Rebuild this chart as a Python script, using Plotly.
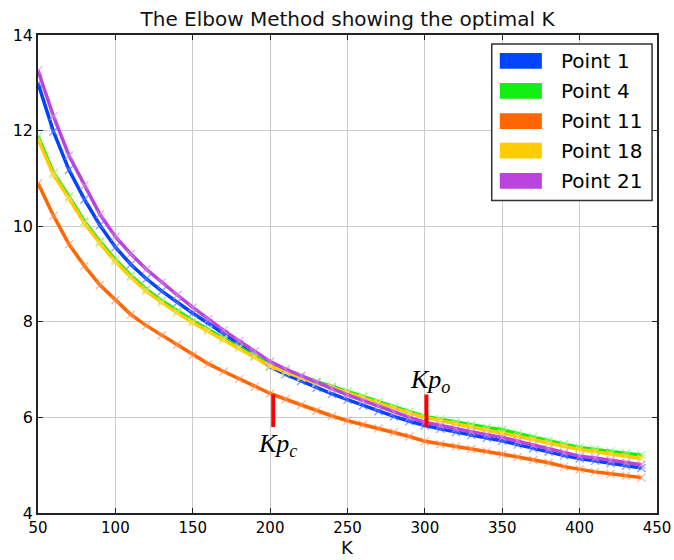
import plotly.graph_objects as go

K = [50, 60, 70, 80, 90, 100, 110, 120, 130, 140, 150, 160, 170, 180, 190, 200,
     210, 220, 230, 240, 250, 260, 270, 280, 290, 300, 310, 320, 330, 340, 350,
     360, 370, 380, 390, 400, 410, 420, 430, 440]

point1 = [12.99, 11.98, 11.18, 10.56, 10.02, 9.56, 9.20, 8.90, 8.64, 8.40, 8.18,
          7.97, 7.75, 7.53, 7.28, 7.06, 6.90, 6.76, 6.62, 6.49, 6.37, 6.25, 6.13,
          6.02, 5.92, 5.83, 5.76, 5.69, 5.63, 5.57, 5.51, 5.43, 5.35, 5.28, 5.20,
          5.14, 5.09, 5.04, 4.99, 4.94]
point4 = [11.88, 11.12, 10.62, 10.10, 9.68, 9.30, 8.97, 8.68, 8.44, 8.22, 8.02,
          7.84, 7.66, 7.48, 7.29, 7.10, 6.98, 6.86, 6.75, 6.65, 6.55, 6.44, 6.33,
          6.22, 6.12, 6.02, 5.96, 5.90, 5.84, 5.79, 5.74, 5.66, 5.59, 5.51, 5.44,
          5.37, 5.33, 5.29, 5.25, 5.21]
point11 = [10.90, 10.22, 9.62, 9.17, 8.77, 8.45, 8.15, 7.92, 7.72, 7.52, 7.30,
           7.12, 6.96, 6.80, 6.64, 6.50, 6.38, 6.26, 6.14, 6.03, 5.93, 5.85, 5.77,
           5.69, 5.60, 5.50, 5.44, 5.39, 5.34, 5.29, 5.23, 5.17, 5.11, 5.05, 4.97,
           4.91, 4.86, 4.82, 4.78, 4.74]
point18 = [11.82, 11.08, 10.58, 10.06, 9.64, 9.26, 8.93, 8.64, 8.40, 8.18, 7.98,
           7.80, 7.62, 7.45, 7.26, 7.07, 6.95, 6.83, 6.72, 6.62, 6.52, 6.41, 6.30,
           6.19, 6.09, 6.00, 5.93, 5.86, 5.80, 5.73, 5.67, 5.60, 5.53, 5.46, 5.39,
           5.33, 5.28, 5.23, 5.18, 5.14]
point21 = [13.26, 12.30, 11.48, 10.85, 10.25, 9.78, 9.42, 9.10, 8.82, 8.56, 8.30,
           8.05, 7.82, 7.60, 7.38, 7.17, 7.01, 6.87, 6.73, 6.60, 6.47, 6.35, 6.23,
           6.11, 6.00, 5.90, 5.83, 5.76, 5.70, 5.64, 5.58, 5.50, 5.42, 5.34, 5.26,
           5.19, 5.15, 5.10, 5.05, 5.01]

series_names = ["Point 1", "Point 4", "Point 11", "Point 18", "Point 21"]
series_values = [point1, point4, point11, point18, point21]
series_colors = ["#0044ff", "#11ee11", "#ff6600", "#ffcc00", "#bb44dd"]
marker_colors = ["rgba(90,120,255,0.7)", "rgba(120,255,120,0.8)", "rgba(255,150,100,0.7)",
                 "rgba(255,220,100,0.8)", "rgba(210,140,230,0.7)"]

x_ticks = [50, 100, 150, 200, 250, 300, 350, 400, 450]
y_ticks = [4, 6, 8, 10, 12, 14]

# Elbow markers (K position, bar bottom, bar top, label position)
kpc_k = 202
kpo_k = 301
bar_low = 5.80
bar_high = 6.48
kpc_label = (205, 5.42)
kpo_label = (303, 6.76)

fig = go.Figure()
for name, vals, col, mcol in zip(series_names, series_values, series_colors, marker_colors):
    fig.add_trace(go.Scatter(
        x=K, y=vals, name=name, mode="lines+markers",
        line=dict(color=col, width=3.5),
        marker=dict(symbol="x-thin", size=8, color=mcol,
                    line=dict(color=mcol, width=1.3)),
        showlegend=False,
    ))

shapes = []
for kx in (kpc_k, kpo_k):
    shapes.append(dict(type="line", xref="x", yref="y", x0=kx, x1=kx,
                       y0=bar_low, y1=bar_high,
                       line=dict(color="#ff0000", width=4)))

# manual legend (patch style)
leg_x0, leg_x1, leg_y0, leg_y1 = 0.733, 0.992, 0.654, 0.981
shapes.append(dict(type="rect", xref="paper", yref="paper", x0=leg_x0, x1=leg_x1,
                   y0=leg_y0, y1=leg_y1, line=dict(color="#333333", width=1.5),
                   fillcolor="white", layer="above"))
annotations = []
row_centers = [0.946, 0.883, 0.820, 0.758, 0.695]
for name, col, yc in zip(series_names, series_colors, row_centers):
    shapes.append(dict(type="rect", xref="paper", yref="paper", x0=0.746, x1=0.814,
                       y0=yc - 0.0165, y1=yc + 0.0165, line=dict(width=0),
                       fillcolor=col, layer="above"))
    annotations.append(dict(xref="paper", yref="paper", x=0.841, y=yc, text=name,
                            showarrow=False, xanchor="left", yanchor="middle",
                            font=dict(family="DejaVu Sans", size=20, color="black")))

annotations.append(dict(x=kpc_label[0], y=kpc_label[1], xref="x", yref="y",
                        text="<i>Kp</i><sub><i>c</i></sub>", showarrow=False,
                        font=dict(family="Liberation Serif", size=26, color="black")))
annotations.append(dict(x=kpo_label[0], y=kpo_label[1], xref="x", yref="y",
                        text="<i>Kp</i><sub><i>o</i></sub>", showarrow=False,
                        font=dict(family="Liberation Serif", size=26, color="black")))
# x-axis title
annotations.append(dict(xref="paper", yref="paper", x=0.5, y=-0.073, text="K",
                        showarrow=False, xanchor="center", yanchor="middle",
                        font=dict(family="DejaVu Sans", size=18, color="#111111")))

fig.update_layout(
    width=674, height=560,
    margin=dict(l=38, r=17, t=35, b=47, autoexpand=False),
    paper_bgcolor="white", plot_bgcolor="white",
    font=dict(family="DejaVu Sans", color="black", size=15),
    title=dict(text="The Elbow Method showing the optimal K", x=0.5, xref="paper",
               xanchor="center", y=1 - 19 / 560, yref="container", yanchor="middle",
               font=dict(family="DejaVu Sans", size=20, color="#111111")),
    shapes=shapes,
    annotations=annotations,
    showlegend=False,
)
fig.update_xaxes(
    range=[50, 450], tickvals=x_ticks, ticktext=[str(v) for v in x_ticks],
    showgrid=True, gridcolor="#cccccc", gridwidth=1, zeroline=False,
    showline=True, linecolor="#222222", linewidth=1.5, mirror="ticks",
    ticks="inside", ticklen=5, tickcolor="#222222", automargin=False,
    tickfont=dict(size=15),
)
fig.update_yaxes(
    range=[4, 14], tickvals=y_ticks, ticktext=[str(v) for v in y_ticks],
    showgrid=True, gridcolor="#cccccc", gridwidth=1, zeroline=False,
    showline=True, linecolor="#222222", linewidth=1.5, mirror="ticks",
    ticks="inside", ticklen=5, tickcolor="#222222", automargin=False,
    tickfont=dict(size=16),
)

fig.write_html("out.html")
